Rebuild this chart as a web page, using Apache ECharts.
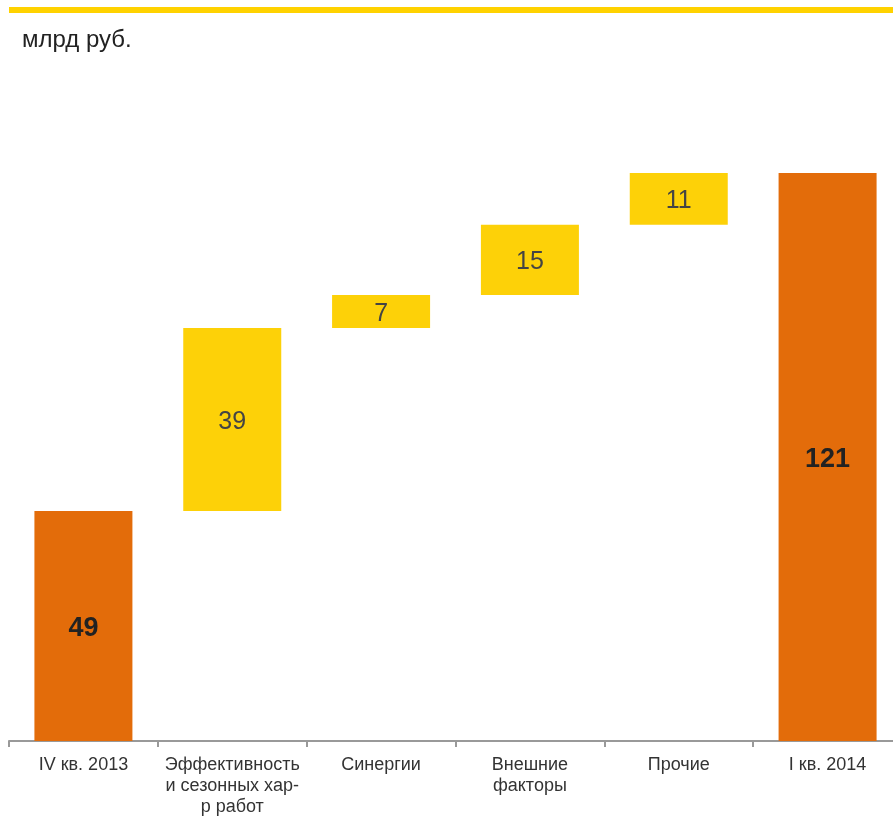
<!DOCTYPE html>
<html>
<head>
<meta charset="utf-8">
<title>Waterfall</title>
<script src="https://cdn.jsdelivr.net/npm/echarts@6/dist/echarts.min.js"></script>
<style>
  html, body { margin: 0; padding: 0; background: #ffffff; overflow: hidden; }
  #chart { width: 903px; height: 816px; }
</style>
</head>
<body>
<div id="chart"></div>
<script>
// Categories along the x axis
const categories = [
  'IV кв. 2013',
  'Эффективность\nи сезонных хар-\nр работ',
  'Синергии',
  'Внешние\nфакторы',
  'Прочие',
  'I кв. 2014'
];
// Bar heights (totals at both ends, increments in between), bn RUB
const values = [49, 39, 7, 15, 11, 121];
// Which bars are totals (drawn from zero) versus increments
const isTotal = [true, false, false, false, false, true];

const ORANGE = '#E36C0A';
const YELLOW = '#FDD108';
const FONT = '"Liberation Sans", Arial, sans-serif';

// Invisible offsets so each increment floats on the running total
const offsets = [];
let running = 0;
values.forEach((v, i) => {
  if (isTotal[i]) {
    offsets.push(0);
    running = v;
  } else {
    offsets.push(running);
    running += v;
  }
});

const visible = values.map((v, i) => ({
  value: v,
  itemStyle: { color: isTotal[i] ? ORANGE : YELLOW },
  label: isTotal[i]
    ? { fontWeight: 'bold', fontSize: 27, color: '#222222', offset: [0, 3] }
    : { fontWeight: 'normal', fontSize: 25, color: '#444444', offset: [0, 2.5] }
}));

const chart = echarts.init(document.getElementById('chart'), null, { renderer: 'canvas' });

chart.setOption({
  animation: false,
  backgroundColor: '#ffffff',
  textStyle: { fontFamily: FONT },
  graphic: [
    {
      type: 'rect',
      shape: { x: 9, y: 7, width: 894, height: 6 },
      style: { fill: '#FFD200' },
      silent: true
    },
    {
      type: 'text',
      left: 22,
      top: 28,
      style: { text: 'млрд руб.', fontSize: 24, fill: '#222222', fontFamily: FONT }
    }
  ],
  grid: {
    left: 9,
    top: 173,
    right: 1,
    height: 568,
    containLabel: false,
    outerBoundsMode: 'none'
  },
  xAxis: {
    type: 'category',
    data: categories,
    axisLine: { show: true, lineStyle: { color: '#999999', width: 2 } },
    axisTick: { show: true, length: 6, lineStyle: { color: '#999999', width: 2 } },
    axisLabel: {
      color: '#333333',
      fontSize: 18,
      lineHeight: 21,
      margin: 14,
      interval: 0,
      fontFamily: FONT
    }
  },
  yAxis: {
    type: 'value',
    min: 0,
    max: 121,
    show: false,
    splitLine: { show: false }
  },
  series: [
    {
      type: 'bar',
      stack: 'wf',
      data: offsets,
      barWidth: 98,
      itemStyle: { color: 'transparent' },
      emphasis: { disabled: true },
      silent: true
    },
    {
      type: 'bar',
      stack: 'wf',
      data: visible,
      barWidth: 98,
      label: {
        show: true,
        position: 'inside',
        fontFamily: FONT
      }
    }
  ]
});
</script>
</body>
</html>
